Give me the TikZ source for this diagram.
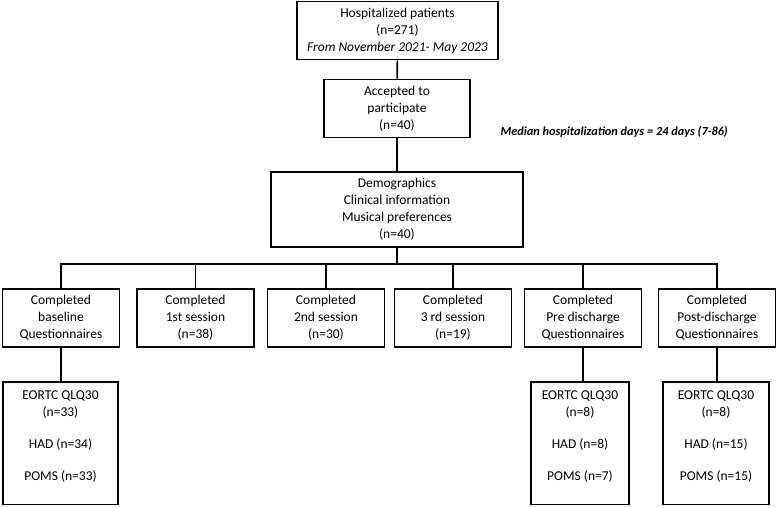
\documentclass[tikz,border=0pt]{standalone}
\usepackage{fontspec}
\setmainfont{Carlito}
\usetikzlibrary{positioning}

\begin{document}
\begin{tikzpicture}[x=1pt,y=-1pt,
                    box/.style={draw, line width=1.6pt, align=center, inner sep=2pt,
                                font=\fontsize{13.5}{17}\selectfont},
                    stagebox/.style={box, minimum width=117pt, minimum height=58pt},
                    qbox/.style={box, anchor=north, inner xsep=5pt, inner ysep=9pt},
                    link/.style={line width=1.6pt},
                   ]

\useasboundingbox (0,0) rectangle (777,507);

% top of the chart
\node[box, minimum width=201pt, minimum height=58pt] (hosp) at (397.5,30.5)
  {Hospitalized patients\\(n=271)\\\textit{From November 2021- May 2023}};
\node[box, minimum width=146pt, minimum height=58pt] (acc) at (397,108.5)
  {Accepted to\\participate\\(n=40)};
\node[anchor=west, font=\fontsize{12.3}{14}\selectfont\bfseries\itshape] (median) at (497,132)
  {Median hospitalization days = 24 days (7-86)};
\node[box, minimum width=252pt, minimum height=75pt] (demo) at (397,209.5)
  {Demographics\\Clinical information\\Musical preferences\\(n=40)};

\draw[link] (hosp) -- (acc);
\draw[link] (acc) -- (demo);

% stages
\node[stagebox] (s1) at (61,318) {Completed\\baseline\\Questionnaires};
\node[stagebox] (s2) at (195.5,318) {Completed\\1st session\\(n=38)};
\node[stagebox] (s3) at (326,318) {Completed\\2nd session\\(n=30)};
\node[stagebox] (s4) at (453,318) {Completed\\3 rd session\\(n=19)};
\node[stagebox] (s5) at (583,318) {Completed\\Pre discharge\\Questionnaires};
\node[stagebox] (s6) at (717,318) {Completed\\Post-discharge\\Questionnaires};

\coordinate (bus) at (397,264);
\draw[link] (demo) -- (bus);
\draw[link] (s1.north) -- (s1.north |- bus) -- (s6.north |- bus) -- (s6.north);
\draw[link] (s2.north) -- (s2.north |- bus);
\draw[link] (s3.north) -- (s3.north |- bus);
\draw[link] (s4.north) -- (s4.north |- bus);
\draw[link] (s5.north) -- (s5.north |- bus);

% questionnaires
\node[qbox, minimum width=115pt] (q1) at (60.5,381)
  {EORTC QLQ30\\(n=33)\\[15pt]HAD (n=34)\\[15pt]POMS (n=33)\\[-2pt]\mbox{}};
\node[qbox, minimum width=98pt] (q5) at (580,381)
  {EORTC QLQ30\\(n=8)\\[15pt]HAD (n=8)\\[15pt]POMS (n=7)\\[-2pt]\mbox{}};
\node[qbox, minimum width=106pt] (q6) at (716,381)
  {EORTC QLQ30\\(n=8)\\[15pt]HAD (n=15)\\[15pt]POMS (n=15)\\[-2pt]\mbox{}};

\draw[link] (s1.south) -- (s1.south |- q1.north);
\draw[link] (s5.south) -- (s5.south |- q5.north);
\draw[link] (s6.south) -- (s6.south |- q6.north);

\end{tikzpicture}
\end{document}
